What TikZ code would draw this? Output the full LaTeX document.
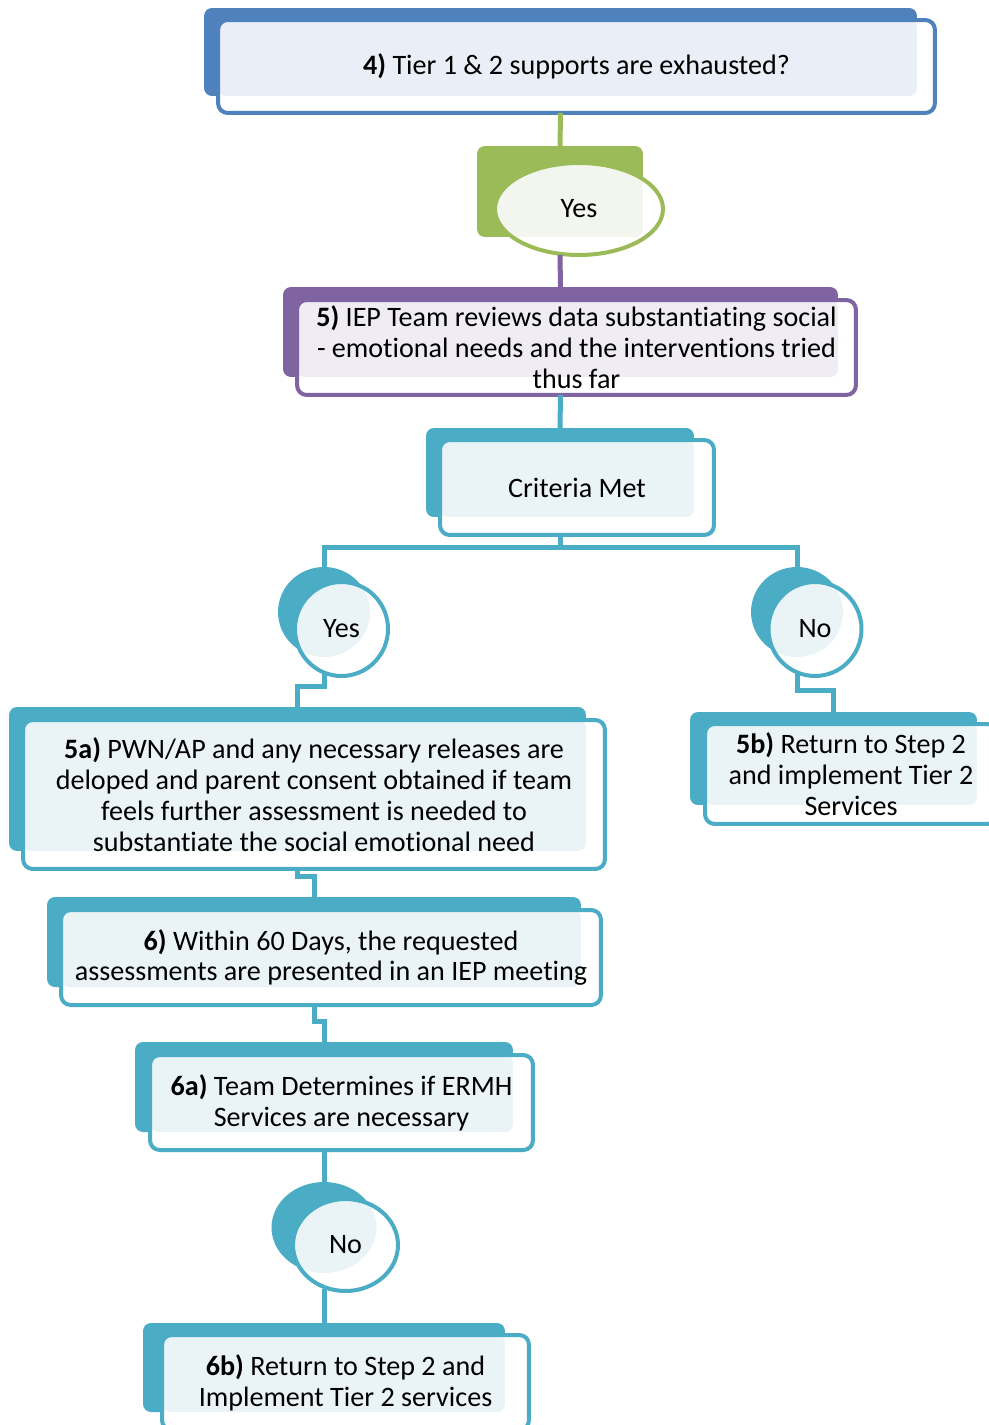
\documentclass[tikz,border=0pt]{standalone}
\usepackage{fontspec}
\setmainfont{Carlito}[Ligatures=NoCommon]
\usetikzlibrary{shapes.geometric}

\definecolor{tierblue}{HTML}{4F81BD}
\definecolor{tierbluel}{HTML}{EAEEF6}
\definecolor{yesgreen}{HTML}{9BBB59}
\definecolor{yesgreenl}{HTML}{F3F6EE}
\definecolor{ieppurple}{HTML}{8064A2}
\definecolor{ieppurplel}{HTML}{EFECF3}
\definecolor{stepteal}{HTML}{4BACC6}
\definecolor{stepteall}{HTML}{EAF4F7}

\newcommand{\stepfont}{\fontsize{16pt}{17.6pt}\selectfont}

\begin{document}
\begin{tikzpicture}[
  x=0.02cm, y=-0.02cm,
  backbox/.style={fill=#1, rounded corners=4.5pt, inner sep=0pt, outer sep=0pt},
  backoval/.style={ellipse, fill=#1, inner sep=0pt, outer sep=0pt},
  frontbox/.style={draw=#1, fill=white, line width=0.08cm, rounded corners=5.5pt,
                   inner sep=0pt, outer sep=0pt, align=center, font=\stepfont},
  frontoval/.style={frontbox=#1, ellipse},
  lightrect/.style 2 args={path picture={\fill[#1, rounded corners=4.5pt]
      (path picture bounding box.north west) rectangle (#2.south east);}},
  lightoval/.style n args={4}{path picture={\fill[#1] (#2.center) ellipse [x radius=#3, y radius=#4];}},
  link/.style={draw=#1, line width=0.1cm},
]
  \clip (0,0) rectangle (989,1425);

  \node[backbox=tierblue, minimum width=14.26cm, minimum height=1.76cm] (b4) at (560.5,52) {};
  \node[frontbox=tierblue, lightrect={tierbluel}{b4}, minimum width=14.34cm, minimum height=1.86cm]
    (f4) at (576.5,66.5) {\textbf{4)} Tier 1 \& 2 supports are exhausted?};

  \node[backbox=yesgreen, minimum width=3.32cm, minimum height=1.82cm] (byes) at (560,191.5) {};
  \node[frontoval=yesgreen, lightrect={yesgreenl}{byes}, minimum width=3.36cm, minimum height=1.84cm]
    (fyes) at (579,209) {Yes};

  \node[backbox=ieppurple, minimum width=11.1cm, minimum height=1.8cm] (b5) at (560.5,332) {};
  \node[frontbox=ieppurple, lightrect={ieppurplel}{b5}, minimum width=11.18cm, minimum height=1.9cm]
    (f5) at (576.5,347.5) {\textbf{5)} IEP Team reviews data substantiating social\\
      - emotional needs and the interventions tried\\ thus far};

  \node[backbox=stepteal, minimum width=5.36cm, minimum height=1.78cm] (bcrit) at (560,472.5) {};
  \node[frontbox=stepteal, lightrect={stepteall}{bcrit}, minimum width=5.48cm, minimum height=1.9cm]
    (fcrit) at (577,487.5) {Criteria Met};

  \node[backoval=stepteal, minimum width=1.84cm, minimum height=1.8cm] (byesA) at (324,612) {};
  \node[frontoval=stepteal, lightoval={stepteall}{byesA}{0.92cm}{0.9cm}, minimum width=1.86cm, minimum height=1.88cm]
    (fyesA) at (341.5,629) {Yes};

  \node[backoval=stepteal, minimum width=1.84cm, minimum height=1.8cm] (bnoA) at (797,612) {};
  \node[frontoval=stepteal, lightoval={stepteall}{bnoA}{0.92cm}{0.9cm}, minimum width=1.86cm, minimum height=1.88cm]
    (fnoA) at (815,629) {No};

  \node[backbox=stepteal, minimum width=11.54cm, minimum height=2.88cm] (b5a) at (297.5,779) {};
  \node[frontbox=stepteal, lightrect={stepteall}{b5a}, minimum width=11.64cm, minimum height=2.98cm]
    (f5a) at (314,794.5) {\textbf{5a)} PWN/AP and any necessary releases are\\
      deloped and parent consent obtained if team\\
      feels further assessment is needed to\\
      substantiate the social emotional need};

  \node[backbox=stepteal, minimum width=5.74cm, minimum height=1.86cm] (b5b) at (833.5,758.5) {};
  \node[frontbox=stepteal, lightrect={stepteall}{b5b}, minimum width=5.84cm, minimum height=2cm]
    (f5b) at (851,774) {\textbf{5b)} Return to Step 2\\ and implement Tier 2\\ Services};

  \node[backbox=stepteal, minimum width=10.68cm, minimum height=1.8cm] (b6) at (314,942) {};
  \node[frontbox=stepteal, lightrect={stepteall}{b6}, minimum width=10.8cm, minimum height=1.9cm]
    (f6) at (331,957.5) {\textbf{6)} Within 60 Days, the requested\\
      assessments are presented in an IEP meeting};

  \node[backbox=stepteal, minimum width=7.56cm, minimum height=1.8cm] (b6a) at (324,1087) {};
  \node[frontbox=stepteal, lightrect={stepteall}{b6a}, minimum width=7.66cm, minimum height=1.9cm]
    (f6a) at (341.5,1102.5) {\textbf{6a)} Team Determines if ERMH\\ Services are necessary};

  \node[backoval=stepteal, minimum width=2.1cm, minimum height=1.82cm] (bnoB) at (324,1227.5) {};
  \node[frontoval=stepteal, lightoval={stepteall}{bnoB}{1.05cm}{0.91cm}, minimum width=2.1cm, minimum height=1.84cm]
    (fnoB) at (345.5,1245) {No};

  \node[backbox=stepteal, minimum width=7.24cm, minimum height=1.78cm] (b6b) at (324,1367.5) {};
  \node[frontbox=stepteal, lightrect={stepteall}{b6b}, minimum width=7.34cm, minimum height=1.9cm]
    (f6b) at (345.5,1382.5) {\textbf{6b)} Return to Step 2 and\\ Implement Tier 2 services};

  \draw[link=yesgreen]  (f4.south -| b4.center) -- (byes.north);
  \draw[link=ieppurple] (fyes.south -| byes.center) -- (b5.north);
  \draw[link=stepteal]  (f5.south -| b5.center) -- (bcrit.north);
  \draw[link=stepteal]  (fcrit.south -| bcrit.center) -- ++(0,13) -| (byesA.north);
  \draw[link=stepteal]  (fcrit.south -| bcrit.center) -- ++(0,13) -| (bnoA.north);
  \draw[link=stepteal]  (fyesA.250 -| byesA.center) -- ++(0,13) -| (b5a.north);
  \draw[link=stepteal]  (fnoA.250 -| bnoA.center) -- ++(0,17) -| (b5b.north);
  \draw[link=stepteal]  (f5a.south -| b5a.center) -- ++(0,8) -| (b6.north);
  \draw[link=stepteal]  (f6.south -| b6.center) -- ++(0,16) -| (b6a.north);
  \draw[link=stepteal]  (f6a.south -| b6a.center) -- (bnoB.north);
  \draw[link=stepteal]  (fnoB.250 -| bnoB.center) -- (b6b.north);
\end{tikzpicture}
\end{document}
